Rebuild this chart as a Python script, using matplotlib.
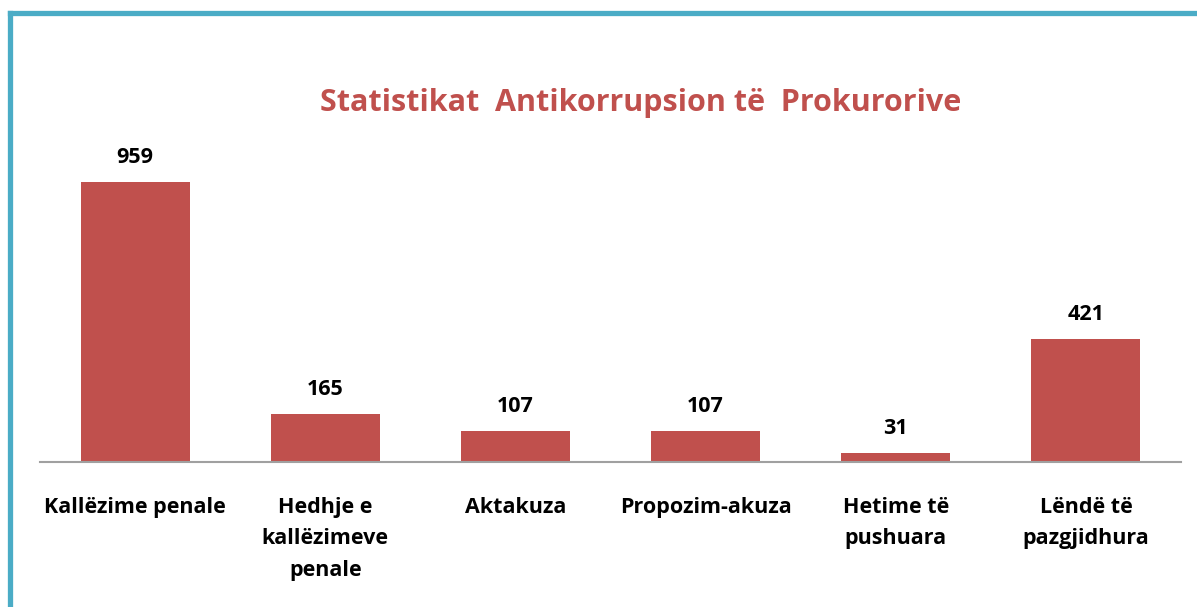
import matplotlib.pyplot as plt
from matplotlib.lines import Line2D

categories = ["Kallëzime penale", "Hedhje e\nkallëzimeve\npenale", "Aktakuza",
              "Propozim-akuza", "Hetime të\npushuara", "Lëndë të\npazgjidhura"]
values = [959, 165, 107, 107, 31, 421]

plt.rcParams['font.family'] = ['Open Sans', 'DejaVu Sans']

W, H = 1197, 607
fig = plt.figure(figsize=(W / 100, H / 100), dpi=100)
# axes: x from 40 to 1181 px, baseline at y=462 px, 0.292 px per unit
ax = fig.add_axes([40 / W, (H - 462) / H, (1181 - 40) / W, 1100 * 0.292 / H])

x = range(len(values))
bars = ax.bar(x, values, width=0.573, color="#C0504D")
ax.set_xlim(-0.5, len(values) - 0.5)
ax.set_ylim(0, 1100)

for b, v in zip(bars, values):
    ax.annotate(str(v), (b.get_x() + b.get_width() / 2, v), xytext=(0, 10),
                textcoords="offset points", ha="center", va="bottom",
                fontsize=15.5, fontweight="bold", color="black")

ax.set_xticks(list(x))
ax.set_xticklabels(categories, fontsize=15.5, fontweight="bold", linespacing=1.65,
                   va="top")
ax.tick_params(axis="x", length=0, pad=25)
ax.set_yticks([])
for s in ["top", "right", "left"]:
    ax.spines[s].set_visible(False)
ax.spines["bottom"].set_color("#A0A0A0")
ax.spines["bottom"].set_linewidth(1.5)

fig.text(641 / W, 1 - 103 / H, "Statistikat  Antikorrupsion të  Prokurorive",
         ha="center", va="center", fontsize=22, fontweight="bold", color="#C0504D")

# teal frame (top and left edges)
fig.add_artist(Line2D([10 / W, 1], [1 - 12.5 / H, 1 - 12.5 / H], color="#4BACC6",
                      linewidth=3.8, solid_capstyle="projecting"))
fig.add_artist(Line2D([10 / W, 10 / W], [0, 1 - 12.5 / H], color="#4BACC6",
                      linewidth=3.8, solid_capstyle="projecting"))

fig.savefig("out.png", dpi=100)
